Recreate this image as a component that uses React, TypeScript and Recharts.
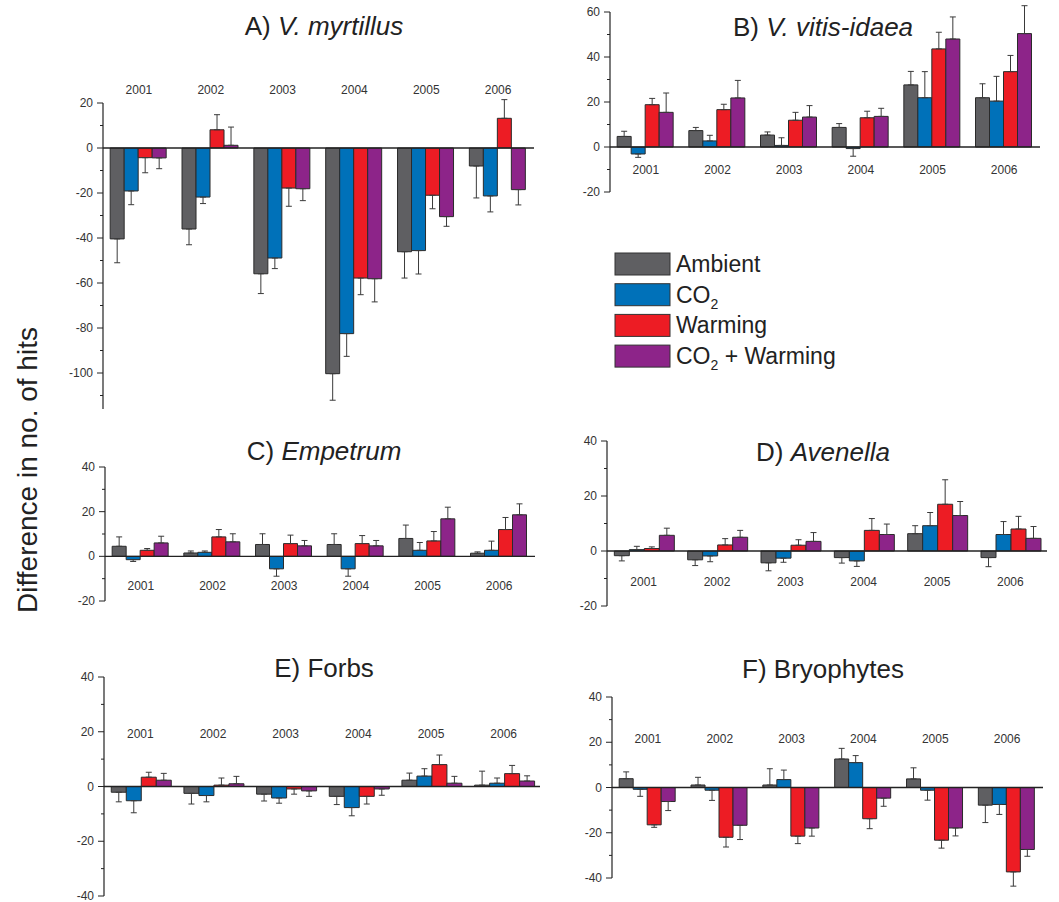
import { BarChart, Bar, XAxis, YAxis, ErrorBar, ReferenceLine, ReferenceDot } from 'recharts'

const FONT = '"Liberation Sans", Arial, Helvetica, sans-serif'

const years = ['2001', '2002', '2003', '2004', '2005', '2006']
const seriesKeys = ['ambient', 'co2', 'warming', 'both']
const seriesColors = ['#5f5f62', '#0071b9', '#ed1c24', '#8d2489']

// A) V. myrtillus  (rows: Ambient, CO2, Warming, CO2 + Warming)
const myrtillusValues = [
  [-40.4, -36, -55.9, -100.3, -46.1, -8],
  [-19.1, -21.8, -48.9, -82.5, -45.6, -21.3],
  [-4.3, 8.1, -17.8, -57.8, -21, 13.2],
  [-4.4, 1.2, -18.1, -58.1, -30.5, -18.5],
]
const myrtillusErrors = [
  [10.6, 7, 8.8, 11.8, 11.7, 14.2],
  [6.1, 2.9, 4.7, 10.1, 10.4, 7.1],
  [6.7, 6.7, 8.1, 7.4, 6, 8.3],
  [4.8, 8.1, 5.3, 10.3, 4.3, 6.8],
]
const myrtillusTicks = [20, 10, 0, -10, -20, -30, -40, -50, -60, -70, -80, -90, -100, -110]

// B) V. vitis-idaea
const vitisValues = [
  [4.7, 7.3, 5.3, 8.7, 27.6, 21.9],
  [-3.1, 2.7, 0.7, -0.7, 21.9, 20.4],
  [18.8, 16.6, 11.9, 13, 43.6, 33.5],
  [15.4, 21.8, 13.3, 13.6, 48, 50.4],
]
const vitisErrors = [
  [2.3, 1.4, 1.4, 1.7, 6, 6.2],
  [1.5, 2.5, 3.4, 3.4, 11.6, 11],
  [2.8, 2.4, 3.5, 2.9, 7.4, 7.2],
  [8.6, 7.8, 5.1, 3.6, 9.8, 12.4],
]
const vitisTicks = [60, 50, 40, 30, 20, 10, 0, -10, -20]

// C) Empetrum
const empetrumValues = [
  [4.5, 1.5, 5.3, 5.3, 8, 1.4],
  [-1.5, 1.8, -5.6, -5.6, 2.7, 2.7],
  [2.7, 8.7, 5.7, 5.7, 6.9, 12],
  [6, 6.5, 4.7, 4.7, 16.8, 18.6],
]
const empetrumErrors = [
  [4.2, 0.9, 4.8, 4.8, 6, 0.6],
  [0.8, 0.6, 3.3, 3.3, 3.5, 4.1],
  [0.8, 3.3, 3.8, 3.6, 4.2, 5.4],
  [3, 3.6, 2.4, 2.4, 5.2, 4.9],
]

// D) Avenella
const avenellaValues = [
  [-1.7, -3.2, -4.3, -2.4, 6.3, -2.4],
  [0.5, -1.8, -2.6, -3.6, 9.2, 6],
  [0.9, 2.2, 2.1, 7.5, 17, 8],
  [5.7, 5, 3.5, 6, 12.9, 4.6],
]
const avenellaErrors = [
  [1.9, 2.1, 2.9, 2, 2.9, 3.3],
  [1.2, 2.1, 1.5, 2, 4.8, 4.7],
  [0.6, 2.3, 2, 4.3, 8.9, 4.6],
  [2.6, 2.5, 3.2, 3.8, 5.1, 4.3],
]
const smallTicks = [40, 30, 20, 10, 0, -10, -20]

// E) Forbs
const forbsValues = [
  [-2.1, -2.5, -2.8, -3.6, 2.3, 0.5],
  [-5.2, -3.3, -4.2, -7.7, 3.8, 1.2],
  [3.4, 0.5, -0.9, -3.6, 8, 4.7],
  [2.3, 1, -1.6, -0.9, 1.2, 2],
]
const forbsErrors = [
  [3.5, 3.9, 2.5, 3, 2.6, 5.1],
  [4.4, 2.3, 1.9, 3, 2.7, 1.9],
  [1.8, 2.6, 1.9, 2.8, 3.5, 3],
  [2.5, 2.7, 2, 2.3, 2.5, 1.9],
]

// F) Bryophytes
const bryoValues = [
  [3.9, 1.1, 1.1, 12.6, 3.8, -7.8],
  [-0.8, -1.2, 3.5, 11, -1.2, -7.5],
  [-16.5, -22, -21.5, -13.8, -23.3, -37.3],
  [-6.2, -16.7, -17.9, -4.7, -17.9, -27.4],
]
const bryoErrors = [
  [3, 3.4, 7.2, 4.7, 4.9, 7.7],
  [3.1, 4.5, 4.2, 3.1, 4.4, 4.4],
  [1.1, 4.3, 3.3, 4.4, 3.5, 6.3],
  [4, 6.3, 3.6, 3.6, 3.5, 3],
]
const wideTicks = [40, 30, 20, 10, 0, -10, -20, -30, -40]

// one-sided error bars: they point away from zero
function buildRows(values: number[][], errors: number[][]) {
  return years.map((year, i) => {
    const row: Record<string, any> = { year }
    seriesKeys.forEach((k, s) => {
      const v = values[s][i]
      const e = errors[s][i]
      row[k] = v
      row[k + 'Err'] = v < 0 ? [e, 0] : [0, e]
    })
    return row
  })
}

function YTick(props: any) {
  const { x, y, payload } = props
  const major = payload.value % 20 === 0
  const axisX = x + 10
  return (
    <g>
      <line x1={axisX - (major ? 6 : 3)} x2={axisX} y1={y} y2={y} stroke="#222" strokeWidth={1} />
      {major && (
        <text x={x} y={y} textAnchor="end" dominantBaseline="central" fontSize={12} fill="#333" fontFamily={FONT}>
          {payload.value}
        </text>
      )}
    </g>
  )
}

function Panel({ values, errors, ticks, domain, labelAt, left, top, width, height }: {
  values: number[][]
  errors: number[][]
  ticks: number[]
  domain: [number, number]
  labelAt: number
  left: number
  top: number
  width: number
  height: number
}) {
  const data = buildRows(values, errors)
  return (
    <div style={{ position: 'absolute', left: left - 50, top: top - 30 }}>
      <BarChart width={width + 65} height={height + 45} data={data}
        margin={{ top: 30, right: 15, bottom: 15, left: 20 }}
        barCategoryGap="10%" barGap={0}>
        <XAxis dataKey="year" hide />
        <YAxis type="number" domain={domain} ticks={ticks} allowDataOverflow interval={0}
          width={30} tickSize={6} tickMargin={4} tickLine={false}
          axisLine={{ stroke: '#222', strokeWidth: 1.2 }} tick={<YTick />} />
        {seriesKeys.map((k, s) => (
          <Bar key={k} dataKey={k} fill={seriesColors[s]} stroke="#2b2b2b" strokeWidth={1} isAnimationActive={false}>
            <ErrorBar dataKey={k + 'Err'} width={3} stroke="#3a3a3a" strokeWidth={1} direction="y" />
          </Bar>
        ))}
        <ReferenceLine y={0} stroke="#222" strokeWidth={1.4} />
        {years.map(yr => (
          <ReferenceDot key={yr} x={yr} y={labelAt} r={1} ifOverflow="visible"
            shape={(p: any) => (
              <text x={p.cx} y={p.cy} textAnchor="middle" dominantBaseline="central" fontSize={12} fill="#333" fontFamily={FONT}>
                {yr}
              </text>
            )} />
        ))}
      </BarChart>
    </div>
  )
}

const legendNames = ['Ambient', 'CO', 'Warming', 'CO']

export default function App() {
  return (
    <div style={{ position: 'absolute', left: 0, top: 0, width: 1059, height: 902, background: '#fff', overflow: 'hidden', fontFamily: FONT }}>
      <Panel values={myrtillusValues} errors={myrtillusErrors} ticks={myrtillusTicks} domain={[-116, 20]} labelAt={26}
        left={103} top={103} width={431} height={306} />
      <Panel values={vitisValues} errors={vitisErrors} ticks={vitisTicks} domain={[-20, 60]} labelAt={-10}
        left={610} top={12} width={430} height={180} />
      <Panel values={empetrumValues} errors={empetrumErrors} ticks={smallTicks} domain={[-20, 40]} labelAt={-13.5}
        left={105} top={467} width={430} height={134} />
      <Panel values={avenellaValues} errors={avenellaErrors} ticks={smallTicks} domain={[-20, 40]} labelAt={-11.3}
        left={607} top={441} width={440} height={165} />
      <Panel values={forbsValues} errors={forbsErrors} ticks={wideTicks} domain={[-40, 40]} labelAt={19.3}
        left={104} top={677} width={436} height={219} />
      <Panel values={bryoValues} errors={bryoErrors} ticks={wideTicks} domain={[-40, 40]} labelAt={21.4}
        left={612} top={697} width={431} height={181} />

      <svg width={1059} height={902} style={{ position: 'absolute', left: 0, top: 0, pointerEvents: 'none' }}
        fontFamily={FONT} fill="#222">
        <text x={324} y={35} fontSize={26} textAnchor="middle">A) <tspan fontStyle="italic">V. myrtillus</tspan></text>
        <text x={823} y={36} fontSize={26} textAnchor="middle">B) <tspan fontStyle="italic">V. vitis-idaea</tspan></text>
        <text x={324} y={460} fontSize={26} textAnchor="middle">C) <tspan fontStyle="italic">Empetrum</tspan></text>
        <text x={823} y={461} fontSize={26} textAnchor="middle">D) <tspan fontStyle="italic">Avenella</tspan></text>
        <text x={324} y={677} fontSize={26} textAnchor="middle">E) Forbs</text>
        <text x={823} y={678} fontSize={26} textAnchor="middle">F) Bryophytes</text>
        <text x={37} y={470} fontSize={28} textAnchor="middle" transform="rotate(-90 37 470)">Difference in no. of hits</text>

        {legendNames.map((name, i) => (
          <g key={i}>
            <rect x={615} y={253 + i * 30.7} width={55} height={22} fill={seriesColors[i]} stroke="#333" strokeWidth={1} />
            <text x={676} y={272 + i * 30.7} fontSize={23}>
              {name}
              {name === 'CO' && <tspan fontSize={14} dy={6}>2</tspan>}
              {i === 3 && <tspan dy={-6}> + Warming</tspan>}
            </text>
          </g>
        ))}
      </svg>
    </div>
  )
}
